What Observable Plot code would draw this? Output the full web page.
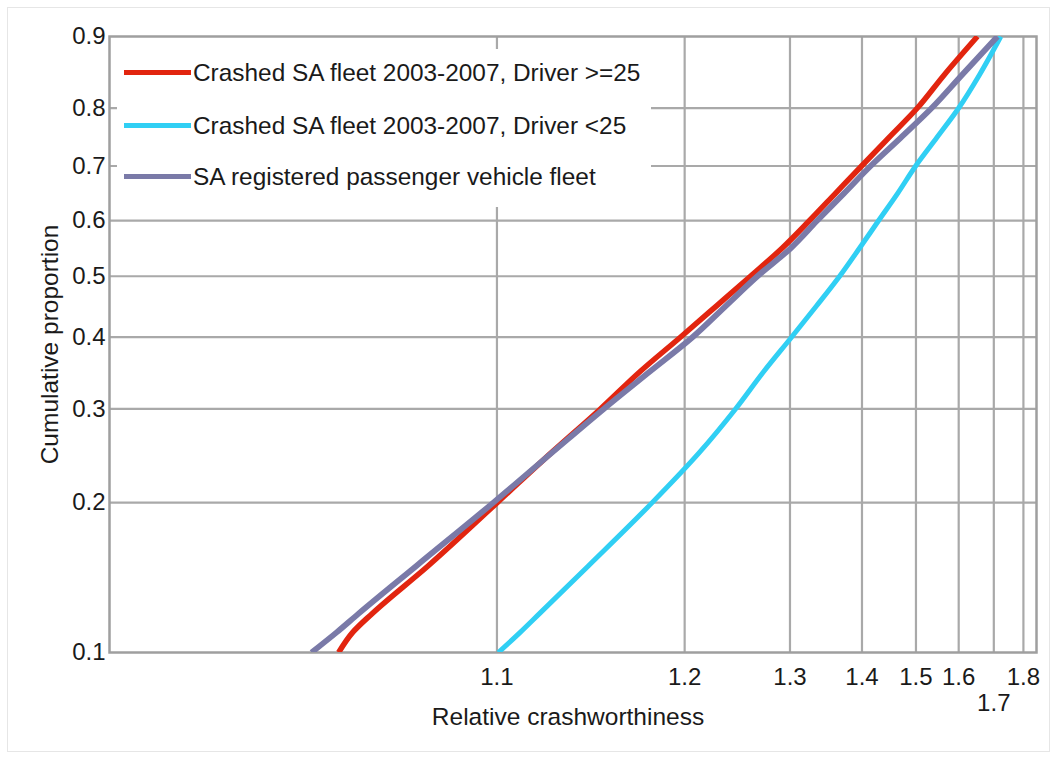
<!DOCTYPE html>
<html>
<head>
<meta charset="utf-8">
<script src="https://cdn.jsdelivr.net/npm/d3@7"></script>
<script src="https://cdn.jsdelivr.net/npm/@observablehq/plot@0.6"></script>
<style>
  html, body { margin: 0; padding: 0; background: #fff; }
  #wrap { position: relative; width: 1058px; height: 760px; font-family: "Liberation Sans", Arial, sans-serif; }
  #border { position: absolute; left: 7px; top: 7px; width: 1043px; height: 745px; border: 1px solid #e6e6e6; box-sizing: border-box; }
  #chart { position: absolute; left: 0; top: 0; }
  #legend { position: absolute; left: 117px; top: 49px; width: 534px; height: 158px; background: #fff; }
  .row { position: absolute; left: 0; width: 534px; height: 30px; }
  .swatch { position: absolute; left: 7px; top: 12.5px; width: 67px; height: 5px; }
  .label { position: absolute; left: 76px; top: 0; line-height: 30px; font-size: 24.4px; color: #1a1a1a; white-space: nowrap; }
</style>
</head>
<body>
<div id="wrap">
  <div id="border"></div>
  <div id="chart"></div>
  <div id="legend"></div>
</div>
<script>
// Cumulative proportion levels (y) and the relative crashworthiness read at each level (x)
const pLevels = [0.1, 0.11, 0.12, 0.15, 0.2, 0.25, 0.3, 0.35, 0.4, 0.45, 0.5, 0.55, 0.6, 0.65, 0.7, 0.75, 0.8, 0.85, 0.9];
const crashedOlder = [1.0567, 1.0596, 1.0638, 1.0780, 1.1001, 1.1223, 1.1460, 1.1694, 1.1968, 1.2258, 1.2572, 1.2911, 1.3241, 1.3594, 1.3994, 1.4462, 1.5030, 1.5631, 1.6511];
const crashedYounger = [1.1005, 1.1088, 1.1166, 1.1396, 1.1770, 1.2119, 1.2428, 1.2710, 1.3018, 1.3333, 1.3654, 1.3962, 1.4282, 1.4632, 1.4994, 1.5459, 1.6000, 1.6563, 1.7221];
const fleet = [1.0515, 1.0563, 1.0608, 1.0748, 1.0987, 1.1226, 1.1478, 1.1757, 1.2060, 1.2340, 1.2642, 1.3011, 1.3342, 1.3719, 1.4144, 1.4690, 1.5344, 1.6079, 1.7115];

const seriesNames = ["Crashed SA fleet 2003-2007, Driver >=25", "Crashed SA fleet 2003-2007, Driver <25", "SA registered passenger vehicle fleet"];
const seriesColors = ["#e2250f", "#30cff4", "#7a7aa8"];

const xTickValues = [1.1, 1.2, 1.3, 1.4, 1.5, 1.6, 1.7, 1.8];
const yTickValues = [0.1, 0.2, 0.3, 0.4, 0.5, 0.6, 0.7, 0.8, 0.9];
const xDomain = [1.0253, 1.8496];
const yDomain = [0.1, 0.9];
const xLabel = "Relative crashworthiness";
const yLabel = "Cumulative proportion";

// Weibull probability-paper transforms
const TX = v => Math.log(Math.log(v));
const TY = p => Math.log(-Math.log(1 - p));
const invX = u => Math.exp(Math.exp(u));
const invY = v => 1 - Math.exp(-Math.exp(v));

const makeRows = (vals) => pLevels.map((p, i) => ({x: TX(vals[i]), y: TY(p)}));
const seriesData = [crashedOlder, crashedYounger, fleet].map(makeRows);

const gridColor = "#a9a9a9";
const xMain = xTickValues.filter(v => v !== 1.7);
const xLow = xTickValues.filter(v => v === 1.7);

const chart = Plot.plot({
  width: 1058,
  height: 760,
  marginLeft: 109,
  marginRight: 22,
  marginTop: 36,
  marginBottom: 108,
  style: {fontSize: "24px", fontFamily: "'Liberation Sans', Arial, sans-serif", color: "#1a1a1a", background: "transparent"},
  x: {domain: xDomain.map(TX), axis: null},
  y: {domain: yDomain.map(TY), axis: null},
  marks: [
    Plot.ruleX(xTickValues.map(TX), {stroke: gridColor, strokeWidth: 2.2}),
    Plot.ruleY(yTickValues.slice(1, -1).map(TY), {stroke: gridColor, strokeWidth: 2.2}),
    Plot.frame({stroke: "#9f9f9f", strokeWidth: 2.5}),
    Plot.axisX(xMain.map(TX), {tickSize: 0, tickPadding: 15, tickFormat: u => invX(u).toFixed(1), label: null}),
    Plot.axisX(xLow.map(TX), {tickSize: 0, tickPadding: 41, tickFormat: u => invX(u).toFixed(1), label: null}),
    Plot.axisY(yTickValues.map(TY), {tickSize: 0, tickPadding: 4, tickFormat: v => invY(v).toFixed(1), label: null}),
    Plot.line(seriesData[1], {x: "x", y: "y", stroke: seriesColors[1], strokeWidth: 5, clip: true, strokeLinecap: "butt", curve: "monotone-y"}),
    Plot.line(seriesData[0], {x: "x", y: "y", stroke: seriesColors[0], strokeWidth: 5.5, clip: true, strokeLinecap: "butt", curve: "monotone-y"}),
    Plot.line(seriesData[2], {x: "x", y: "y", stroke: seriesColors[2], strokeWidth: 5.8, clip: true, strokeLinecap: "butt", curve: "monotone-y"}),
    Plot.text([xLabel], {frameAnchor: "bottom", lineAnchor: "middle", textAnchor: "middle", dy: 65, dx: -5, fontSize: 24.5, fill: "#1a1a1a"}),
    Plot.text([yLabel], {frameAnchor: "left", lineAnchor: "middle", textAnchor: "middle", dx: -59, rotate: -90, fontSize: 24.5, fill: "#1a1a1a"})
  ]
});
document.getElementById("chart").appendChild(chart);

const legend = document.getElementById("legend");
const rowTops = [23.7, 76.7, 127.7];
seriesNames.forEach((name, i) => {
  const row = document.createElement("div");
  row.className = "row";
  row.style.top = (rowTops[i] - 15) + "px";
  const sw = document.createElement("div");
  sw.className = "swatch";
  sw.style.background = seriesColors[i];
  const lb = document.createElement("div");
  lb.className = "label";
  lb.textContent = name;
  row.appendChild(sw);
  row.appendChild(lb);
  legend.appendChild(row);
});
</script>
</body>
</html>
